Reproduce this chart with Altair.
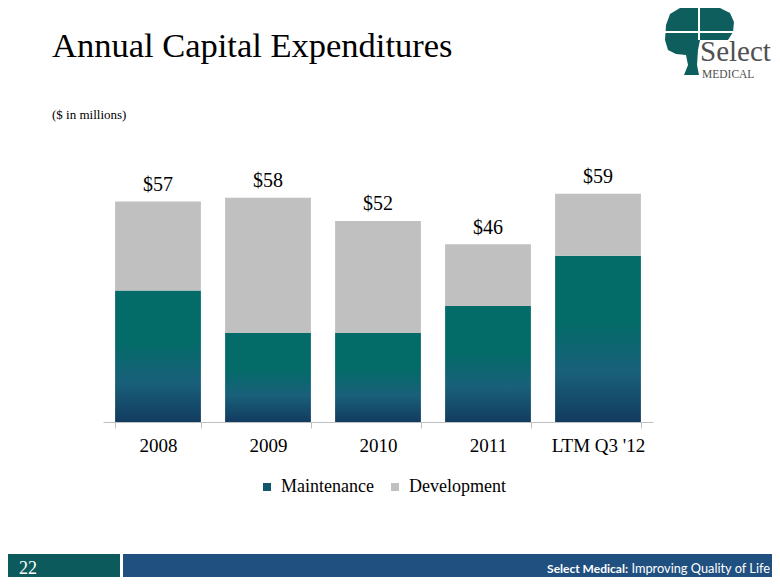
import altair as alt
import pandas as pd

# ---------------- data ----------------
categories = ["2008", "2009", "2010", "2011", "LTM Q3 '12"]
maintenance = [34, 23, 23, 30, 43]
development = [23, 35, 29, 16, 16]
totals = [57, 58, 52, 46, 59]
value_labels = ["$57", "$58", "$52", "$46", "$59"]
series_names = ["Maintenance", "Development"]

title_text = "Annual Capital Expenditures"
subtitle_text = "($ in millions)"
page_number = "22"
footer_bold = "Select Medical:"
footer_regular = "Improving Quality of Life"
logo_word = "Select"
logo_sub = "MEDICAL"

# ---------------- styles ----------------
SERIF = "Liberation Serif, Times New Roman, serif"
SANS = "Lato, sans-serif"
TEAL = "#036b68"
NAVY = "#123b60"
GRAY = "#c0c0c0"
TREE = "#0e5e5e"

W, H = 764, 569

df = pd.DataFrame({
    "category": categories,
    "maintenance": maintenance,
    "development": development,
    "total": totals,
    "label": value_labels,
    "series": ["Development"] * len(categories),
})

x_scale = alt.Scale(domain=categories, range=[95, 645], paddingInner=0.22, paddingOuter=0.11)
y_scale = alt.Scale(domain=[0, 60], range=[414, 182], nice=False, zero=True)

x_enc = alt.X(
    "category:N", sort=categories, scale=x_scale, title=None,
    axis=alt.Axis(orient="bottom", offset=-155, labelAngle=0, labelFont=SERIF,
                  labelFontSize=19, labelColor="black", labelPadding=8,
                  tickBand="extent", domainColor="#bfbfbf", tickColor="#bfbfbf",
                  tickSize=6, domainWidth=1, tickWidth=1, grid=False),
)

grad = alt.LinearGradient(
    gradient="linear",
    stops=[alt.GradientStop(offset=0, color=TEAL),
           alt.GradientStop(offset=0.4, color=TEAL),
           alt.GradientStop(offset=0.7, color="#19607a"),
           alt.GradientStop(offset=1, color=NAVY)],
    x1=0, x2=0, y1=0, y2=1,
)

maint = alt.Chart(df).mark_bar(fill=grad, strokeWidth=0).encode(
    x=x_enc,
    y=alt.Y("maintenance:Q", scale=y_scale, axis=None),
)

dev = alt.Chart(df).mark_bar(strokeWidth=0, opacity=1).encode(
    x=x_enc,
    y=alt.Y("total:Q", scale=y_scale, axis=None),
    y2="maintenance:Q",
    color=alt.Color(
        "series:N",
        scale=alt.Scale(domain=series_names, range=["#12566b", GRAY]),
        legend=alt.Legend(orient="none", legendX=250, legendY=470, direction="horizontal",
                          title=None, symbolType="square", symbolSize=64,
                          symbolStrokeWidth=0, symbolOpacity=1, labelFont=SERIF,
                          labelFontSize=18, labelColor="black", labelOffset=5,
                          columnPadding=12, padding=0),
    ),
)

labels = alt.Chart(df).mark_text(dy=-10.5, baseline="alphabetic", font=SERIF,
                                 fontSize=20, color="black").encode(
    x=x_enc,
    y=alt.Y("total:Q", scale=y_scale, axis=None),
    text="label:N",
)


def text_layer(text, x, y, **kw):
    return alt.Chart(pd.DataFrame({"t": [text]})).mark_text(**kw).encode(
        x=alt.value(x), y=alt.value(y), text="t:N")


def rect_layer(x, x2, y, y2, color):
    return alt.Chart(pd.DataFrame({"a": [0]})).mark_rect(color=color, strokeWidth=0).encode(
        x=alt.value(x), x2=alt.value(x2), y=alt.value(y), y2=alt.value(y2))


def rule_layer(x, x2, y, y2, color, width):
    return alt.Chart(pd.DataFrame({"a": [0]})).mark_rule(color=color, strokeWidth=width).encode(
        x=alt.value(x), x2=alt.value(x2), y=alt.value(y), y2=alt.value(y2))


tree_path = ("M -0.889 0.222 L -0.972 -0.056 L -0.944 -0.472 L -0.833 -0.778 "
             "L -0.556 -0.944 L 0 -1 L 0.556 -0.944 L 0.833 -0.806 L 0.944 -0.556 "
             "L 0.917 -0.278 L 0.778 -0.056 L 0 -0.056 L -0.056 0.222 L -0.083 0.639 "
             "L -0.028 0.917 L -0.444 0.917 L -0.333 0.639 L -0.389 0.361 "
             "L -0.667 0.333 Z")

tree = alt.Chart(pd.DataFrame({"a": [0]})).mark_point(
    shape=tree_path, filled=True, size=5184, color=TREE, opacity=1, strokeWidth=0
).encode(x=alt.value(692), y=alt.value(34))

layers = [
    # footer
    rect_layer(0, 112, 546, 569, "#0c5a5c"),
    rect_layer(115, 764, 546, 569, "#1f5080"),
    text_layer(page_number, 11, 561, font=SERIF, fontSize=18, color="white",
               align="left", baseline="middle"),
    text_layer(footer_bold, 620, 561, font=SANS, fontSize=12, fontWeight="bold",
               color="white", align="right", baseline="middle"),
    text_layer(footer_regular, 762, 561, font=SANS, fontSize=12.8, color="white",
               align="right", baseline="middle"),
    # logo
    tree,
    rule_layer(691, 691, 0, 32, "white", 2),
    rule_layer(657, 726, 24, 24, "white", 2),
    text_layer(logo_word, 692, 53, font=SERIF, fontSize=29, color="#505050",
               align="left", baseline="alphabetic"),
    text_layer(logo_sub, 694, 70, font=SERIF, fontSize=11.5, color="#505050",
               align="left", baseline="alphabetic"),
    # titles
    text_layer(title_text, 44, 49, font=SERIF, fontSize=34.5, color="black",
               align="left", baseline="alphabetic"),
    text_layer(subtitle_text, 44, 111, font=SERIF, fontSize=13, color="black",
               align="left", baseline="alphabetic"),
    # chart
    maint,
    dev,
    labels,
]

chart = alt.layer(*layers).properties(
    width=W, height=H, autosize=alt.AutoSizeParams(type="none"), padding=0
).configure_view(stroke=None)

chart.save("out.html", embed_options={"renderer": "svg", "actions": False})
